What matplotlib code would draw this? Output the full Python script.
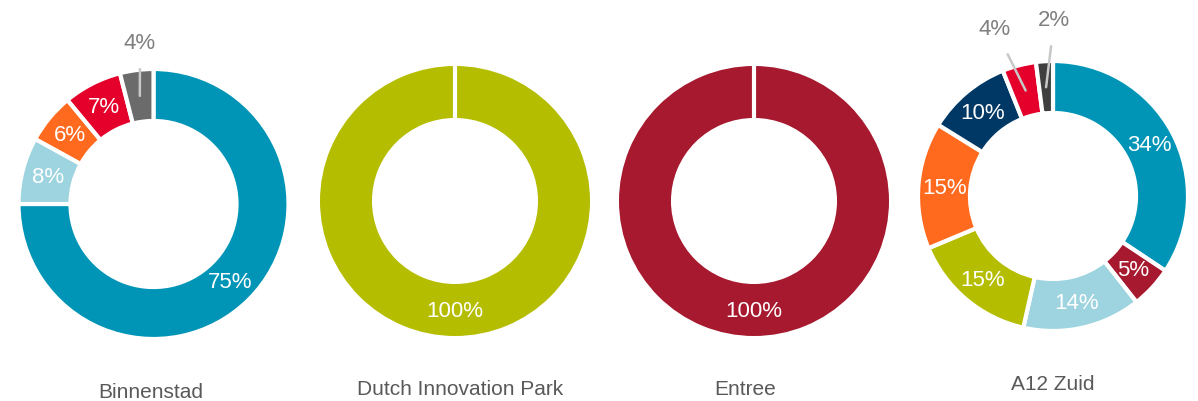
import numpy as np
import matplotlib.pyplot as plt

plt.rcParams['font.family'] = ['Liberation Sans', 'DejaVu Sans']

# Shares per area, clockwise from 12 o'clock
titles = ['Binnenstad', 'Dutch Innovation Park', 'Entree', 'A12 Zuid']

binnenstad = [75, 8, 6, 7, 4]
binnenstad_colors = ['#0095B6', '#9DD4DF', '#FF6A1F', '#E4002B', '#6B6B6B']

dip = [100]
dip_colors = ['#B5BD00']

entree = [100]
entree_colors = ['#A6192E']

a12 = [34, 5, 14, 15, 15, 10, 4, 2]
a12_colors = ['#0095B6', '#A6192E', '#9DD4DF', '#B5BD00', '#FF6A1F',
              '#003865', '#E4002B', '#3F3F3F']

# slices whose label sits above the ring with a leader line
outside = {0: {4: (-0.10, 1.20)},
           3: {6: (-0.43, 1.24), 7: (0.01, 1.31)}}

W, H = 1198, 402
centers = [(153.5, 205), (455, 202), (754, 202), (1053, 197)]
title_y = [393, 390, 390, 385]
title_x = [151, 460, 745, 1053]
R_PX = 135
SIZE = 300
lim = SIZE / 2 / R_PX

fig = plt.figure(figsize=(W / 100, H / 100), dpi=100)

data = [(binnenstad, binnenstad_colors), (dip, dip_colors),
        (entree, entree_colors), (a12, a12_colors)]

for i, ((vals, cols), (cx, cy)) in enumerate(zip(data, centers)):
    ax = fig.add_axes([(cx - SIZE / 2) / W, 1 - (cy + SIZE / 2) / H, SIZE / W, SIZE / H])
    width = 0.385
    edge = 3 if len(vals) > 1 else 0
    ax.pie(vals, colors=cols, startangle=90, counterclock=False, radius=1,
           wedgeprops=dict(width=width, edgecolor='white', linewidth=edge))
    if len(vals) == 1:
        # thin white gap at the top of a full ring
        ax.plot([0, 0], [1 - width, 1], color='white', lw=3)
    total = sum(vals)
    mid_r = 1 - width / 2
    start = 90.0
    for j, v in enumerate(vals):
        span = 360 * v / total
        ang = np.deg2rad(start - span / 2)
        start -= span
        px, py = mid_r * np.cos(ang), mid_r * np.sin(ang)
        if len(vals) == 1:
            px, py = 0, -mid_r
        label = f'{v}%'
        if i in outside and j in outside[i]:
            lx, ly = outside[i][j]
            ax.annotate(label, xy=(px, py), xytext=(lx, ly), ha='center', va='center',
                        fontsize=16, color='#7F7F7F',
                        arrowprops=dict(arrowstyle='-', color='#C8C8C8', lw=1.8,
                                        shrinkA=10, shrinkB=0))
        else:
            ax.text(px, py, label, ha='center', va='center', fontsize=16, color='white')
    ax.set_xlim(-lim, lim)
    ax.set_ylim(-lim, lim)
    ax.set_aspect('equal')
    ax.axis('off')
    fig.text(title_x[i] / W, 1 - title_y[i] / H, titles[i],
             ha='center', va='center', fontsize=15, color='#595959')

fig.savefig('out.png', dpi=100)
